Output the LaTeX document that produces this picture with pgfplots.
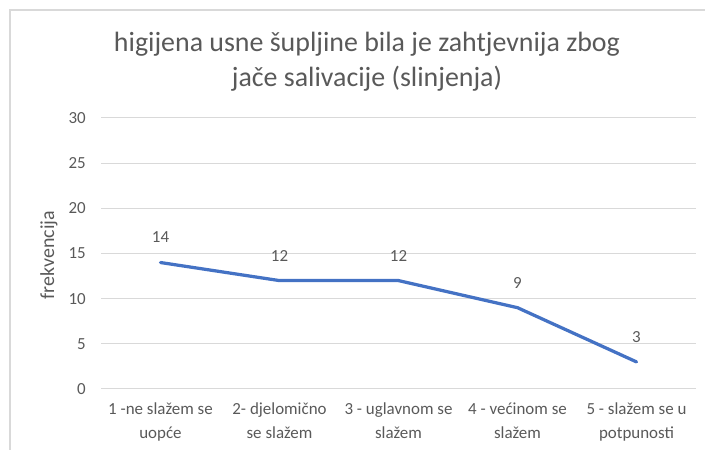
\documentclass[border=0pt]{standalone}
\usepackage{pgfplots}
\pgfplotsset{compat=1.18}
\usepackage{fontspec}
\setmainfont{Carlito}
\definecolor{txt}{HTML}{595959}
\definecolor{gridc}{HTML}{D9D9D9}
\definecolor{linec}{HTML}{4472C4}
\begin{document}
\begin{tikzpicture}[x=1bp,y=1bp]
\useasboundingbox (0,0) rectangle (705,450);
\draw[gridc, line width=1.5bp] (10,-20) -- (10,440) -- (740,440);
\node[txt, align=center, font=\fontsize{28}{35}\selectfont] at (367,388) {higijena usne šupljine bila je zahtjevnija zbog\\jače salivacije (slinjenja)};
\node[txt, rotate=90, font=\fontsize{20}{22}\selectfont] at (49,195) {frekvencija};
\begin{axis}[
  at={(101bp,61bp)}, anchor=south west,
  scale only axis, width=595bp, height=271bp,
  xmin=-0.5, xmax=4.5, ymin=0, ymax=30,
  ytick={0,5,...,30}, xtick={0,1,2,3,4},
  xticklabels={{1 -ne slažem se\\uopće},{2- djelomično\\se slažem},{3 - uglavnom se\\slažem},{4 - većinom se\\slažem},{5 - slažem se u\\potpunosti}},
  /pgf/number format/assume math mode=true,
  axis line style={draw=none},
  major tick length=0pt,
  ymajorgrids, grid style={gridc, line width=1bp},
  yticklabel style={txt, inner sep=0pt, xshift=-15bp, font=\fontsize{17}{20}\selectfont},
  xticklabel style={txt, inner sep=0pt, yshift=-14bp, align=center, font=\fontsize{17}{24}\selectfont},
  nodes near coords,
  every node near coord/.append style={txt, anchor=center, yshift=25bp, inner sep=0pt, font=\fontsize{17}{20}\selectfont},
]
\addplot[linec, line width=3.25bp, no marks, line join=round, line cap=round] coordinates {(0,14) (1,12) (2,12) (3,9) (4,3)};
\end{axis}
\end{tikzpicture}
\end{document}
